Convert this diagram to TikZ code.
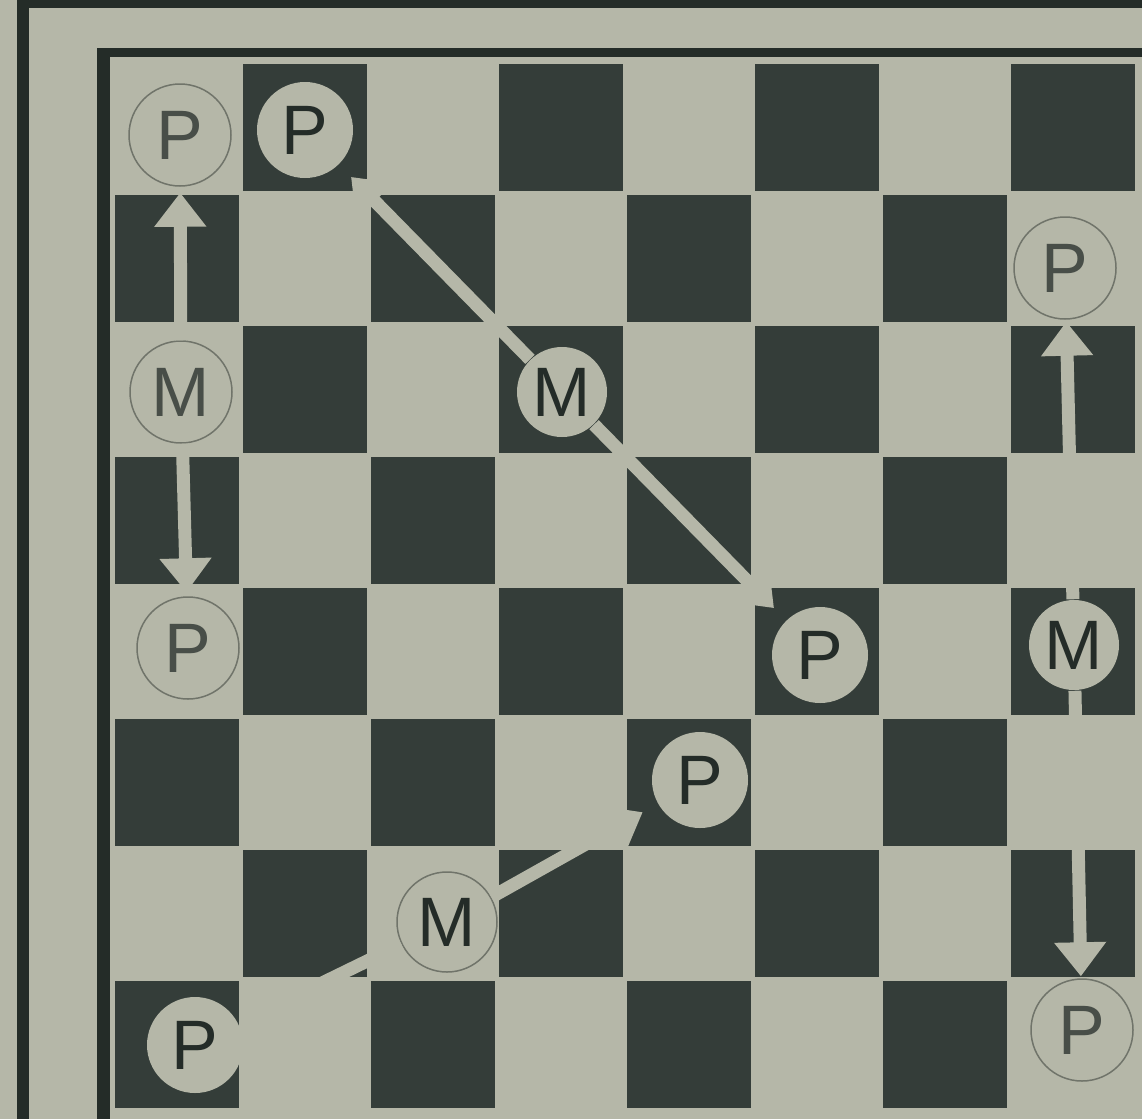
\documentclass[tikz,border=0pt]{standalone}
\usepackage{fontspec}
\setmainfont{Liberation Sans}
\usetikzlibrary{arrows.meta}
\definecolor{paper}{RGB}{181,183,168}
\definecolor{darksq}{RGB}{52,61,57}
\definecolor{ink}{RGB}{36,44,40}
\definecolor{faintink}{RGB}{72,78,72}
\definecolor{rim}{RGB}{112,116,106}
\tikzset{
  disc/.style={circle, fill=paper, draw=rim, line width=1.5pt, inner sep=0pt,
    minimum size=96pt, font=\fontsize{70}{74}\selectfont, text=ink},
  faintdisc/.style={disc, text=faintink, minimum size=102pt},
  solid/.style={disc, draw=none},
  mv/.style={draw=paper, line width=13pt, -{Triangle[width=50pt,length=34pt]}},
}
\begin{document}
\begin{tikzpicture}[x=1pt,y=-1pt]
\useasboundingbox (0,0) rectangle (1142,1119);
\fill[paper] (0,0) rectangle (1142,1119);
% outer frame
\fill[ink] (17,0) rectangle (29,1119);
\fill[ink] (17,0) rectangle (1142,8);
% board border
\fill[ink] (97,48) rectangle (110,1119);
\fill[ink] (97,48) rectangle (1142,57);
% dark squares
\foreach \i in {0,...,7} {
  \foreach \j in {0,...,7} {
    \pgfmathtruncatemacro\oddsq{mod(\i+\j,2)}
    \ifnum\oddsq=1
      \fill[darksq] ({113+128*\i+2},{62+131*\j+2}) rectangle ({113+128*(\i+1)-2},{62+131*(\j+1)-2});
    \fi
  }
}
% pieces
\node[faintdisc] (p1) at (180,135) {P};
\node[solid] (p2) at (305,130) {P};
\node[faintdisc] (m1) at (181,392) {M};
\node[faintdisc] (p3) at (188,648) {P};
\node[solid, minimum size=90pt] (m2) at (562,392) {M};
\node[solid] (p4) at (820,655) {P};
\node[solid] (p5) at (700,780) {P};
\node[disc, minimum size=100pt] (m3) at (447,922) {M};
\node[solid] (p6) at (195,1045) {P};
\node[faintdisc] (p7) at (1065,268) {P};
\node[solid, minimum size=90pt] (m4) at (1074,645) {M};
\node[faintdisc] (p8) at (1082,1030) {P};
% moves
\draw[mv, shorten >=6pt] (m1) -- (p1);
\draw[mv, shorten >=4pt] (m1) -- (p3);
\draw[mv, shorten >=17pt] (m2) -- (p2);
\draw[mv, shorten >=17pt] (m2) -- (p4);
\draw[mv, shorten >=17pt] (m3) -- (p5);
\draw[mv, shorten >=8pt] (m3) -- (p6);
\draw[mv, shorten >=2pt] (m4) -- (p7);
\draw[mv, shorten >=2pt] (m4) -- (p8);
\end{tikzpicture}
\end{document}
